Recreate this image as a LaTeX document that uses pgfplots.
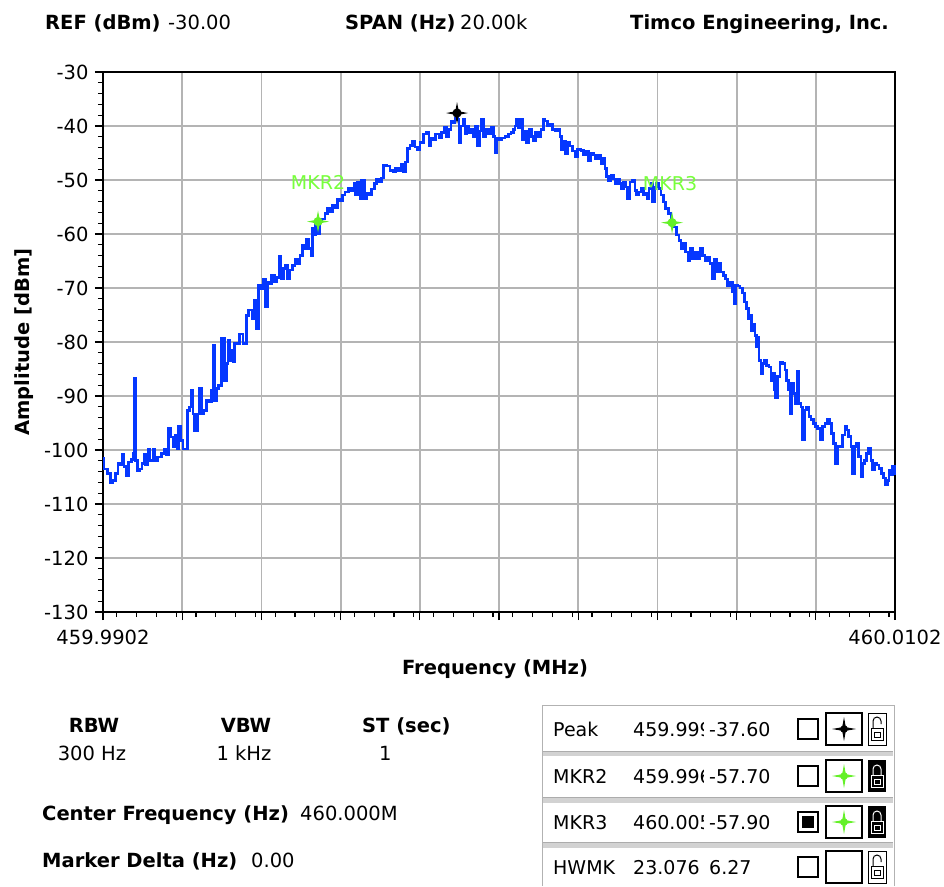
\documentclass[border=0pt]{standalone}
\usepackage{pgfplots}
\pgfplotsset{compat=1.18}
\usepackage{fontspec}
\setmainfont{DejaVu Sans}
\newcommand{\bt}{\fontsize{19.5}{22}\selectfont\bfseries}
\newcommand{\rt}{\fontsize{19.5}{22}\selectfont}
\newcommand{\st}{\fontsize{19}{22}\selectfont}
\definecolor{trace}{RGB}{5,55,255}
\definecolor{mkgreen}{RGB}{100,240,40}
\definecolor{mktext}{RGB}{120,255,60}
\definecolor{gridc}{RGB}{180,180,180}
\pgfdeclareplotmark{fourstar}{%
  \pgfpathmoveto{\pgfqpoint{0pt}{\pgfplotmarksize}}%
  \pgfpathlineto{\pgfqpoint{0.16\pgfplotmarksize}{0.16\pgfplotmarksize}}%
  \pgfpathlineto{\pgfqpoint{\pgfplotmarksize}{0pt}}%
  \pgfpathlineto{\pgfqpoint{0.16\pgfplotmarksize}{-0.16\pgfplotmarksize}}%
  \pgfpathlineto{\pgfqpoint{0pt}{-\pgfplotmarksize}}%
  \pgfpathlineto{\pgfqpoint{-0.16\pgfplotmarksize}{-0.16\pgfplotmarksize}}%
  \pgfpathlineto{\pgfqpoint{-\pgfplotmarksize}{0pt}}%
  \pgfpathlineto{\pgfqpoint{-0.16\pgfplotmarksize}{0.16\pgfplotmarksize}}%
  \pgfpathclose
  \pgfusepathqfill
  \pgfpathcircle{\pgfpointorigin}{0.42\pgfplotmarksize}%
  \pgfusepathqfill
}
\begin{document}
\begin{tikzpicture}
\fill[white] (0pt,0pt) rectangle (944pt,-886pt);
\path[use as bounding box] (0pt,0pt) rectangle (944pt,-886pt);
\begin{axis}[
  at={(103pt,-612pt)}, anchor=south west,
  width=792pt, height=540pt, scale only axis,
  xmin=0, xmax=20, ymin=-130, ymax=-30,
  xtick={0,2,...,20},
  xticklabels={459.9902,,,,,,,,,,460.0102},
  minor xtick={0.35,0.85,...,19.9},
  ytick={-130,-120,...,-30},
  yticklabels={-130,-120,-110,-100,-90,-80,-70,-60,-50,-40,-30},
  minor ytick={-128,-126,...,-32},
  tick align=outside, xtick pos=bottom, ytick pos=left,
  major tick length=8pt, minor tick length=5pt,
  every tick/.style={black, line width=1.2pt},
  grid=major, major grid style={gridc, line width=1.8pt},
  axis line style={black, line width=1.8pt},
  tick label style={font=\rt},
  xticklabel style={yshift=-6pt},
  yticklabel style={xshift=-3pt},
  xlabel={Frequency (MHz)}, ylabel={Amplitude [dBm]},
  label style={font=\bt},
  x label style={at={(axis description cs:0.495,-0.1148)}, anchor=base},
  y label style={at={(axis description cs:-0.0934,0.5)}, anchor=base},
  clip=false,
]
\addplot[trace, line width=2.6pt, const plot, line join=miter] table {
x y
0 -101.5
0.025 -103.5
0.109 -104.4
0.194 -106.1
0.253 -105.6
0.311 -104.4
0.379 -102.5
0.421 -102.8
0.48 -100.8
0.53 -103.1
0.589 -104.7
0.648 -102.2
0.716 -101.8
0.758 -100.7
0.783 -86.8
0.8 -86.8
0.816 -101.9
0.867 -103.8
0.926 -103.5
0.985 -102.5
1.035 -100.8
1.069 -102.8
1.136 -99.8
1.178 -101.9
1.263 -99.8
1.305 -101.9
1.372 -101.3
1.473 -100.7
1.557 -99.8
1.599 -100.8
1.658 -96.0
1.709 -97.6
1.768 -99.4
1.827 -97.3
1.877 -99.8
1.911 -95.7
1.961 -98.2
2.02 -99.8
2.08 -99.8
2.13 -92.7
2.189 -92.0
2.231 -88.9
2.273 -93.3
2.315 -96.4
2.382 -93.3
2.441 -88.6
2.483 -93.3
2.551 -92.7
2.61 -90.8
2.694 -91.1
2.736 -88.9
2.778 -84.6
2.795 -80.6
2.82 -90.8
2.862 -88.6
2.921 -88.0
2.988 -79.4
3.056 -79.4
3.072 -87.1
3.114 -84.0
3.157 -79.7
3.199 -83.4
3.241 -81.5
3.283 -83.7
3.325 -80.3
3.409 -80.3
3.451 -78.5
3.535 -80.3
3.594 -80.3
3.62 -75.1
3.679 -74.1
3.763 -75.7
3.813 -72.3
3.872 -76.9
3.88 -77.5
3.922 -69.5
3.99 -70.1
4.049 -68.3
4.107 -73.5
4.158 -68.9
4.217 -69.2
4.259 -67.7
4.326 -68.9
4.385 -68.0
4.444 -64.1
4.495 -68.3
4.553 -66.4
4.596 -65.8
4.663 -68.3
4.722 -66.7
4.781 -65.8
4.848 -64.6
4.915 -65.5
4.974 -64.0
5.033 -62.1
5.1 -62.7
5.143 -60.9
5.202 -62.7
5.252 -64.0
5.286 -59.0
5.336 -60.2
5.37 -58.1
5.42 -59.9
5.479 -57.8
5.521 -57.2
5.606 -56.2
5.673 -55.3
5.732 -55.9
5.791 -54.7
5.858 -55.2
5.926 -53.5
5.985 -53.8
6.044 -52.8
6.111 -52.2
6.195 -51.6
6.279 -51.9
6.347 -50.7
6.38 -52.8
6.431 -50.4
6.49 -53.5
6.532 -50.1
6.599 -53.5
6.658 -52.5
6.717 -52.8
6.784 -51.7
6.851 -50.7
6.91 -49.8
6.969 -50.4
7.037 -49.6
7.079 -47.3
7.163 -47.4
7.247 -48.2
7.332 -48.5
7.39 -47.8
7.458 -48.2
7.542 -47.0
7.584 -48.5
7.643 -46.7
7.693 -44.2
7.752 -43.6
7.811 -42.8
7.879 -43.9
7.946 -44.3
8.005 -43.1
8.089 -41.5
8.174 -41.1
8.232 -43.7
8.283 -42.2
8.342 -42.5
8.401 -41.5
8.485 -42.2
8.552 -41.2
8.62 -40.3
8.679 -41.9
8.721 -40.6
8.788 -39.1
8.847 -39.4
8.889 -38.5
8.931 -37.7
8.956 -38.8
8.99 -43.1
9.041 -40.0
9.1 -38.8
9.142 -41.5
9.184 -40.0
9.243 -41.2
9.293 -40.6
9.352 -41.9
9.394 -40.0
9.462 -43.7
9.52 -40.9
9.563 -38.8
9.605 -41.9
9.664 -40.6
9.731 -41.5
9.798 -40.3
9.857 -41.9
9.899 -44.9
9.941 -42.2
10.0 -42.5
10.067 -42.2
10.152 -41.9
10.236 -41.5
10.303 -41.2
10.362 -40.6
10.404 -40.0
10.446 -38.8
10.488 -40.3
10.539 -38.8
10.589 -42.5
10.657 -40.9
10.699 -43.1
10.758 -40.6
10.825 -41.9
10.876 -42.8
10.926 -41.2
10.993 -41.9
11.061 -40.6
11.12 -38.8
11.162 -39.1
11.229 -40.0
11.288 -39.7
11.347 -40.6
11.414 -40.9
11.482 -40.6
11.54 -41.9
11.583 -44.3
11.625 -42.8
11.684 -45.2
11.734 -43.1
11.793 -43.7
11.852 -44.6
11.919 -45.6
11.987 -44.3
12.07 -44.5
12.129 -45.4
12.188 -44.7
12.256 -46.4
12.323 -45.1
12.382 -45.4
12.441 -46.0
12.508 -45.4
12.576 -47.0
12.634 -46.0
12.677 -47.9
12.719 -49.4
12.761 -50.1
12.828 -49.1
12.887 -49.8
12.946 -50.7
12.997 -49.8
13.055 -50.7
13.097 -51.6
13.14 -50.4
13.199 -51.3
13.249 -53.5
13.308 -50.4
13.367 -50.1
13.434 -51.9
13.476 -52.8
13.535 -52.2
13.586 -51.6
13.645 -52.8
13.704 -52.5
13.754 -53.5
13.788 -51.6
13.838 -50.7
13.872 -54.1
13.922 -51.3
13.981 -50.7
14.04 -51.6
14.091 -52.8
14.15 -54.1
14.208 -55.3
14.276 -56.2
14.343 -58.1
14.402 -58.7
14.486 -60.2
14.545 -61.2
14.596 -62.7
14.655 -61.8
14.714 -63.3
14.781 -64.9
14.823 -62.7
14.882 -64.6
14.949 -63.3
15.017 -64.6
15.076 -62.7
15.135 -64.0
15.202 -64.9
15.269 -64.3
15.328 -65.5
15.387 -68.3
15.438 -64.6
15.497 -67.0
15.555 -65.5
15.606 -67.0
15.665 -67.7
15.724 -68.3
15.774 -69.5
15.833 -68.9
15.892 -70.7
15.943 -72.9
15.976 -69.5
16.027 -69.6
16.086 -70.0
16.145 -70.9
16.196 -72.6
16.255 -73.8
16.297 -75.6
16.339 -75.0
16.381 -77.9
16.423 -76.8
16.465 -78.8
16.507 -80.9
16.549 -79.1
16.566 -83.4
16.617 -85.8
16.65 -84.0
16.701 -83.4
16.76 -84.3
16.819 -84.6
16.869 -87.1
16.903 -85.8
16.953 -88.9
16.987 -90.3
17.037 -86.4
17.096 -83.7
17.155 -84.0
17.223 -85.2
17.265 -87.1
17.307 -88.9
17.349 -93.2
17.391 -87.7
17.433 -89.5
17.492 -91.4
17.543 -85.5
17.576 -91.4
17.627 -92.0
17.66 -98.1
17.711 -92.6
17.77 -92.0
17.829 -93.8
17.879 -94.4
17.938 -95.1
17.997 -95.7
18.048 -96.0
18.106 -98.1
18.165 -95.7
18.233 -95.1
18.3 -94.4
18.359 -95.1
18.401 -96.9
18.443 -98.8
18.502 -102.5
18.553 -99.4
18.611 -99.4
18.67 -97.2
18.738 -95.7
18.78 -96.3
18.822 -97.5
18.889 -99.4
18.923 -104.3
18.973 -99.4
19.032 -98.8
19.074 -101.2
19.141 -104.9
19.175 -102.5
19.226 -101.9
19.285 -100.6
19.327 -99.7
19.394 -101.9
19.428 -103.7
19.478 -102.5
19.537 -102.8
19.596 -103.4
19.664 -104.3
19.706 -105.2
19.765 -106.5
19.815 -105.6
19.849 -103.7
19.899 -104.6
19.933 -103.1
19.983 -104.3
20 -103.5
};
\addplot[only marks, mark=fourstar, mark size=11pt, black] coordinates {(8.94,-37.6)};
\addplot[only marks, mark=fourstar, mark size=11pt, mkgreen,
  nodes near coords={MKR2},
  every node near coord/.append style={font=\st, text=mktext, anchor=base, yshift=32pt, inner sep=0pt}]
  coordinates {(5.43,-57.7)};
\addplot[only marks, mark=fourstar, mark size=11pt, mkgreen,
  nodes near coords={MKR3},
  every node near coord/.append style={font=\st, text=mktext, anchor=base, yshift=32pt, xshift=-2pt, inner sep=0pt}]
  coordinates {(14.37,-57.9)};
\end{axis}
\begin{scope}[x=1pt,y=-1pt, every node/.style={inner sep=0pt, anchor=base west}]
% header
\node at (45,29) {\bt REF (dBm)};
\node at (168,29) {\rt -30.00};
\node at (345,29) {\bt SPAN (Hz)};
\node at (460,29) {\rt 20.00k};
\node at (630,29) {\bt Timco Engineering, Inc.};
% bottom-left info
\node[anchor=base] at (94,732) {\bt RBW};
\node[anchor=base] at (92,760) {\rt 300 Hz};
\node[anchor=base] at (246,732) {\bt VBW};
\node[anchor=base] at (244,760) {\rt 1 kHz};
\node at (362,732) {\bt ST (sec)};
\node at (379,760) {\rt 1};
\node at (42,820) {\bt Center Frequency (Hz)};
\node at (300,820) {\rt 460.000M};
\node at (42,867) {\bt Marker Delta (Hz)};
\node at (251,867) {\rt 0.00};
% marker table
\fill[white] (542,705) rectangle (894,886);
\draw[gray!60, line width=1pt] (542,886) -- (542,705) -- (894,705) -- (894,886);
\foreach \yy in {753.5,800,845}{
  \fill[gray!35] (543,\yy-2.5) rectangle (893,\yy+2.5);
  \draw[gray!65, line width=0.6pt] (543,\yy-2.5) -- (893,\yy-2.5);
}
\foreach \cy/\nm/\fq/\db in {729/Peak/459.999/-37.60, 776/MKR2/459.996/-57.70, 822/MKR3/460.005/-57.90, 867/HWMK/23.076/6.27}{
  \node at (553,\cy+7) {\st \nm};
  \begin{scope}
    \clip (628,\cy-15) rectangle (703,\cy+15);
    \node at (633,\cy+7) {\st \fq};
  \end{scope}
  \node at (709,\cy+7) {\st \db};
  \draw[black, line width=1.4pt] (798,\cy-10) rectangle (818,\cy+10);
  \draw[black, line width=1.8pt] (826,\cy-16) rectangle (862,\cy+16);
}
% filled checkbox row 3
\fill[black] (802,816) rectangle (814,828);
% icons: stars
\foreach \cy/\cc in {729/black, 776/mkgreen, 822/mkgreen}{
  \fill[\cc] (844,\cy-12) -- (845.8,\cy-1.8) -- (856,\cy) -- (845.8,\cy+1.8) -- (844,\cy+12)
     -- (842.2,\cy+1.8) -- (832,\cy) -- (842.2,\cy-1.8) -- cycle;
  \fill[\cc] (844,\cy) circle (3.8);
}
% locks (open)
\foreach \cy in {729, 867}{
  \draw[black, line width=1pt] (868,\cy-16) rectangle (886,\cy+16);
  \draw[black, line width=1pt] (871,\cy-1) rectangle (883,\cy+11);
  \draw[black, line width=1pt] (873,\cy-1) -- (873,\cy-8) arc (180:360:4) -- (881,\cy-5);
  \draw[black, line width=1pt] (874,\cy+3) rectangle (880,\cy+8);
}
% locks (closed)
\foreach \cy in {776, 822}{
  \fill[black] (868,\cy-16) rectangle (886,\cy+16);
  \draw[white, line width=1pt] (871,\cy-1) rectangle (883,\cy+11);
  \draw[white, line width=1pt] (873,\cy-1) -- (873,\cy-7) arc (180:360:4) -- (881,\cy-1);
  \draw[white, line width=1pt] (874,\cy+3) rectangle (880,\cy+8);
}
\end{scope}
\end{tikzpicture}
\end{document}
